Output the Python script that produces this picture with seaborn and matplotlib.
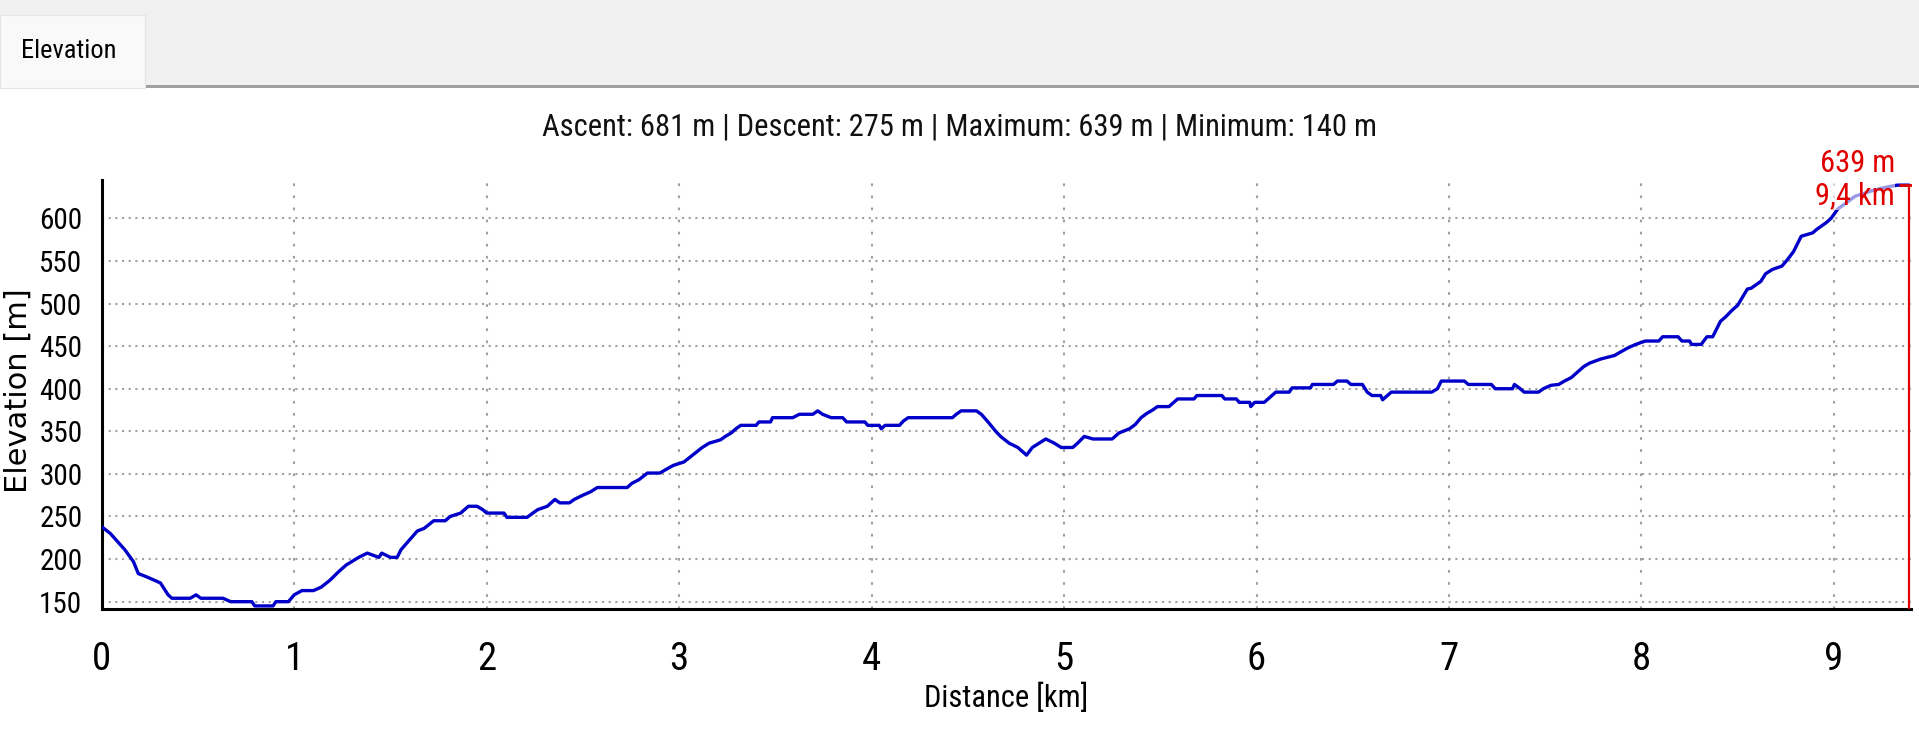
import matplotlib
matplotlib.use("Agg")
import matplotlib.pyplot as plt
from matplotlib.patches import Rectangle
import seaborn as sns
import pandas as pd

# elevation profile
dist_km = [0.00, 0.045, 0.12, 0.165, 0.19, 0.235, 0.305, 0.345, 0.365, 0.46, 0.49, 0.515, 0.63, 0.67,
           0.78, 0.795, 0.89, 0.905, 0.97, 1.00, 1.04, 1.10, 1.14, 1.185, 1.23, 1.27, 1.335, 1.38,
           1.44, 1.455, 1.50, 1.535, 1.555, 1.64, 1.675, 1.725, 1.785, 1.81, 1.865, 1.905, 1.95,
           1.98, 2.00, 2.09, 2.105, 2.21, 2.24, 2.265, 2.315, 2.355, 2.38, 2.43, 2.455, 2.50, 2.54,
           2.575, 2.73, 2.755, 2.79, 2.835, 2.90, 2.93, 2.97, 3.025, 3.075, 3.12, 3.155, 3.215,
           3.24, 3.27, 3.295, 3.32, 3.40, 3.415, 3.475, 3.485, 3.59, 3.625, 3.695, 3.72, 3.745,
           3.79, 3.85, 3.87, 3.965, 3.98, 4.04, 4.05, 4.07, 4.145, 4.165, 4.19, 4.42, 4.44, 4.465,
           4.545, 4.57, 4.605, 4.645, 4.67, 4.715, 4.76, 4.805, 4.835, 4.87, 4.905, 4.95, 4.985,
           5.045, 5.07, 5.105, 5.15, 5.25, 5.285, 5.34, 5.37, 5.40, 5.43, 5.46, 5.485, 5.545, 5.57,
           5.59, 5.675, 5.69, 5.82, 5.835, 5.895, 5.91, 5.965, 5.97, 5.99, 6.04, 6.075, 6.10, 6.17,
           6.185, 6.28, 6.29, 6.40, 6.42, 6.47, 6.49, 6.55, 6.575, 6.60, 6.645, 6.655, 6.68, 6.70,
           6.91, 6.94, 6.96, 7.08, 7.10, 7.22, 7.24, 7.33, 7.34, 7.37, 7.39, 7.465, 7.49, 7.53,
           7.57, 7.60, 7.635, 7.66, 7.70, 7.73, 7.79, 7.86, 7.89, 7.93, 7.97, 8.02, 8.09, 8.11,
           8.19, 8.21, 8.25, 8.26, 8.31, 8.34, 8.37, 8.41, 8.44, 8.47, 8.50, 8.55, 8.57, 8.62,
           8.645, 8.68, 8.73, 8.76, 8.79, 8.81, 8.83, 8.89, 8.91, 8.96, 8.985, 9.02, 9.11, 9.22,
           9.28, 9.33, 9.39]
elev_m = [238, 230, 211, 197, 183, 179, 172, 158, 154, 154, 158, 154, 154, 150,
          150, 145, 145, 150, 150, 158, 163, 163, 167, 175, 185, 193, 202, 207,
          202, 207, 202, 202, 211, 233, 236, 245, 245, 250, 254, 262, 262,
          258, 254, 254, 249, 249, 254, 258, 262, 270, 266, 266, 270, 275, 279,
          284, 284, 289, 293, 301, 301, 305, 310, 314, 323, 331, 336, 340,
          344, 348, 353, 357, 357, 361, 361, 366, 366, 370, 370, 374, 370,
          366, 366, 361, 361, 357, 357, 353, 357, 357, 362, 366, 366, 370, 374,
          374, 370, 361, 350, 344, 336, 331, 322, 331, 336, 341, 336, 331,
          331, 336, 344, 341, 341, 348, 353, 358, 366, 371, 375, 379, 379, 384,
          388, 388, 392, 392, 388, 388, 384, 384, 379, 384, 384, 391, 396, 396,
          401, 401, 405, 405, 409, 409, 405, 405, 396, 392, 392, 387, 392, 396,
          396, 400, 409, 409, 405, 405, 400, 400, 405, 400, 396, 396, 400, 404,
          405, 409, 413, 418, 426, 430, 435, 439, 443, 448, 452, 456, 456, 461,
          461, 456, 456, 452, 452, 461, 461, 479, 485, 492, 498, 517, 518, 526,
          535, 540, 544, 552, 561, 570, 579, 583, 587, 595, 600, 611, 626, 634,
          637, 639, 639]

x_ticks = [0, 1, 2, 3, 4, 5, 6, 7, 8, 9]
y_ticks = [150, 200, 250, 300, 350, 400, 450, 500, 550, 600]
title = "Ascent: 681 m | Descent: 275 m | Maximum: 639 m | Minimum: 140 m"
end_label = "639 m\n9,4 km"

df = pd.DataFrame({"km": dist_km, "elev": elev_m})

sns.set_style("white")
narrow = ["Roboto Condensed", "Liberation Sans Narrow", "Liberation Sans", "DejaVu Sans"]
plt.rcParams["font.family"] = narrow
plt.rcParams["font.stretch"] = "condensed"

fig = plt.figure(figsize=(19.19, 7.36), dpi=100)
fig.patch.set_facecolor("white")

# tab strip on top
fig.add_artist(Rectangle((0, 0.8832), 1, 0.1168, transform=fig.transFigure,
                         facecolor="#f0f0f0", edgecolor="none", zorder=0))
fig.add_artist(Rectangle((0.076, 0.8804), 0.924, 0.004, transform=fig.transFigure,
                         facecolor="#a0a0a0", edgecolor="none", zorder=1))
fig.add_artist(Rectangle((0, 0.8804), 0.0756, 0.0992, transform=fig.transFigure,
                         facecolor="#f9f9f9", edgecolor="#e4e4e4", lw=0.8, zorder=2))
fig.text(0.036, 0.9307, "Elevation", ha="center", va="center", fontsize=19, color="black")

fig.text(0.5, 0.8274, title, ha="center", va="center", fontsize=22, color="#111111")

ax = fig.add_axes([0.053, 0.1721, 0.9428, 0.5833])
sns.lineplot(data=df, x="km", y="elev", ax=ax, color="#0000c8", lw=2.4,
             estimator=None, sort=False, zorder=3)

ax.set_xlim(0, 9.4)
ax.set_ylim(141, 645)
ax.set_xticks(x_ticks)
ax.set_yticks(y_ticks)
ax.set_xticklabels([str(t) for t in x_ticks])
ax.set_yticklabels([str(t) for t in y_ticks])

ax.set_axisbelow(True)
ax.grid(axis="y", color="#a0a0a0", lw=1.5, linestyle=(0, (1, 2.2)))
ax.grid(axis="x", color="#a0a0a0", lw=1.5, linestyle=(0, (1.3, 4.5)))

for s in ["top", "right"]:
    ax.spines[s].set_visible(False)
for s in ["left", "bottom"]:
    ax.spines[s].set_color("black")
    ax.spines[s].set_linewidth(2.2)

ax.tick_params(axis="x", direction="inout", length=13, width=2, pad=16,
               labelsize=28, colors="black")
ax.tick_params(axis="y", direction="out", length=6, width=2, pad=8,
               labelsize=21, colors="black")

ax.set_xlabel("Distance [km]", fontsize=22, color="black")
ax.xaxis.set_label_coords(0.5, -0.17)
ax.set_ylabel("Elevation [m]", fontsize=22, color="black",
              family=["DejaVu Sans"], stretch="normal")
ax.yaxis.set_label_coords(-0.0383, 0.5085)

# end marker: red drop line and label
end_km = dist_km[-1]
end_m = elev_m[-1]
ax.vlines(end_km, 141, end_m, color="#e00000", lw=1.6, zorder=4)
ax.plot([end_km], [end_m], marker="_", markersize=14, mew=2, color="#e00000", zorder=4)
ax.annotate(end_label, xy=(end_km, end_m), xytext=(-10, 4), textcoords="offset points",
            ha="right", va="center", fontsize=22, color="#e00000", linespacing=1.1,
            bbox=dict(facecolor="white", edgecolor="none", alpha=0.6, pad=0), zorder=5)

fig.savefig("out.png", dpi=100)
